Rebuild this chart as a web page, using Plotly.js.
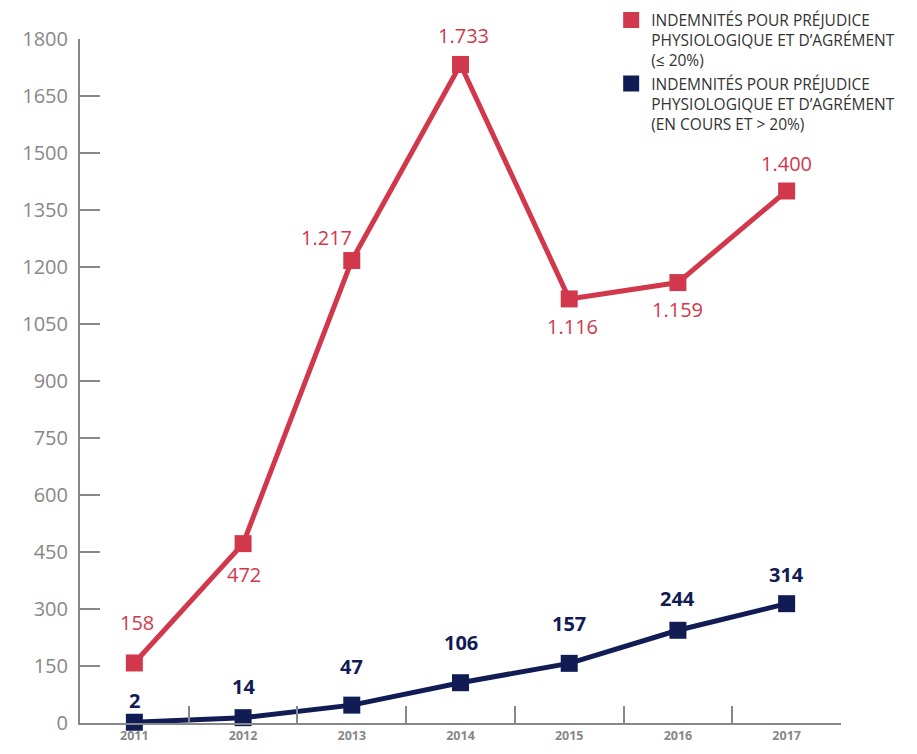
<!DOCTYPE html>
<html>
<head>
<meta charset="utf-8">
<script src="https://cdn.plot.ly/plotly-3.0.1.min.js"></script>
<style>html,body{margin:0;padding:0;background:#fff;}#chart{width:917px;height:754px;}</style>
</head>
<body>
<div id="chart"></div>
<script>
const years = ['2011','2012','2013','2014','2015','2016','2017'];
const redValues = [158, 472, 1217, 1733, 1116, 1159, 1400];
const navyValues = [2, 14, 47, 106, 157, 244, 314];
const redName = 'INDEMNITÉS POUR PRÉJUDICE<br>PHYSIOLOGIQUE ET D’AGRÉMENT<br>(≤ 20%)';
const navyName = 'INDEMNITÉS POUR PRÉJUDICE<br>PHYSIOLOGIQUE ET D’AGRÉMENT<br>(EN COURS ET &gt; 20%)';
const yTicks = [0,150,300,450,600,750,900,1050,1200,1350,1500,1650,1800];

// label offsets (style)
const redShiftX = [3, 1, -25, 3, 3, 0, 0];
const redShiftY = [40, -31, 23, 29, -28, -27, 28];
const navyShiftY = [22, 31, 39, 40, 40, 32, 29];

const RED = '#d2384b';
const NAVY = '#111c55';
const FONT = '"Open Sans", "Noto Sans", sans-serif';

function fmt(v){ return String(v).replace(/\B(?=(\d{3})+(?!\d))/g, '.'); }

const traces = [
  {x: years, y: redValues, mode: 'lines+markers', type: 'scatter', showlegend: false,
   line: {color: RED, width: 5}, marker: {symbol: 'square', size: 17, color: RED}, cliponaxis: false},
  {x: years, y: navyValues, mode: 'lines+markers', type: 'scatter', showlegend: false,
   line: {color: NAVY, width: 5}, marker: {symbol: 'square', size: 17, color: NAVY}, cliponaxis: false},
  {x: [null], y: [null], mode: 'markers', type: 'scatter', name: redName,
   marker: {symbol: 'square', size: 17, color: RED}},
  {x: [null], y: [null], mode: 'markers', type: 'scatter', name: navyName,
   marker: {symbol: 'square', size: 17, color: NAVY}}
];

const annotations = [];
years.forEach((yr, i) => {
  annotations.push({x: i, y: redValues[i], xref: 'x', yref: 'y', text: fmt(redValues[i]), showarrow: false,
    xshift: redShiftX[i], yshift: redShiftY[i],
    font: {family: FONT, size: 20, color: RED, weight: 500}});
  annotations.push({x: i, y: navyValues[i], xref: 'x', yref: 'y', text: fmt(navyValues[i]), showarrow: false,
    yshift: navyShiftY[i],
    font: {family: FONT, size: 20, color: NAVY, weight: 'bold'}});
});

const layout = {
  width: 917, height: 754,
  margin: {l: 80, r: 76, t: 39, b: 31, autoexpand: false},
  paper_bgcolor: '#fff', plot_bgcolor: '#fff',
  font: {family: FONT},
  showlegend: true,
  legend: {x: 0.698, y: 1.052, xanchor: 'left', yanchor: 'top', valign: 'top',
    font: {family: FONT, size: 15.5, color: '#333'}, tracegroupgap: 2,
    bgcolor: 'rgba(0,0,0,0)', itemwidth: 30},
  xaxis: {type: 'category', range: [-0.5, 6.5], tickson: 'boundaries', ticks: 'inside',
    ticklen: 17, tickwidth: 2, tickcolor: '#888', showline: true, linecolor: '#888', linewidth: 2,
    showgrid: false, zeroline: false, fixedrange: true,
    tickfont: {family: FONT, size: 12.5, color: '#888', weight: 'bold'}},
  yaxis: {range: [0, 1800], tickvals: yTicks, ticktext: yTicks.map(String), ticks: 'inside', ticklen: 20,
    tickwidth: 2, tickcolor: '#888', showline: true, linecolor: '#888', linewidth: 2,
    showgrid: false, zeroline: false, ticklabelstandoff: 6,
    tickfont: {family: FONT, size: 20, color: '#888', weight: 500}},
  annotations: annotations
};

Plotly.newPlot('chart', traces, layout, {displayModeBar: false, staticPlot: true});
</script>
</body>
</html>
